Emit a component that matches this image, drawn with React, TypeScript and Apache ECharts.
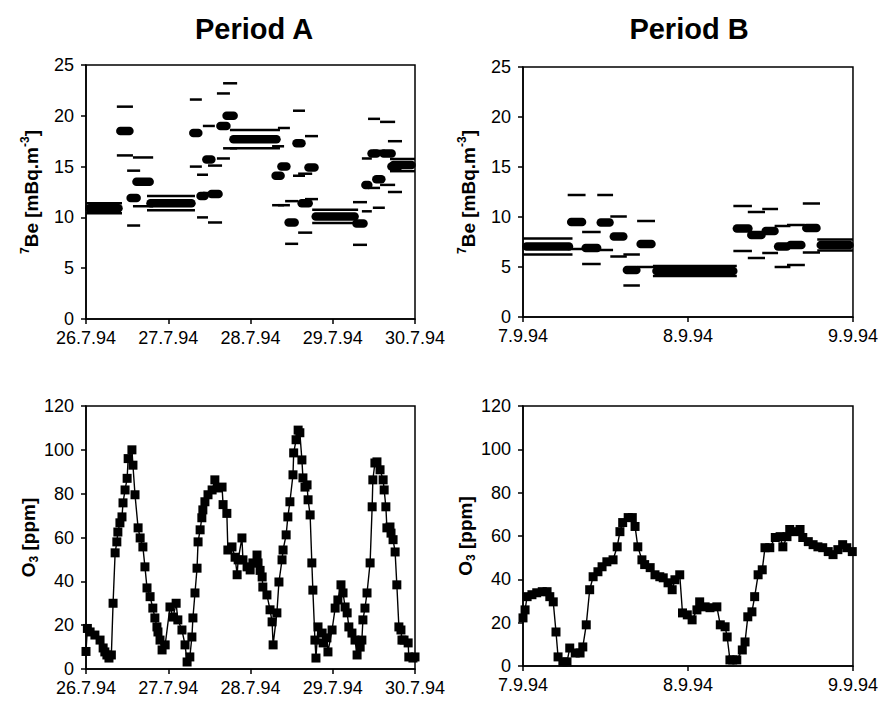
import React, { useEffect, useRef } from "react";
import * as echarts from "echarts";

const FONT = '"Liberation Sans", Arial, Helvetica, sans-serif';

// x positions in hours from the first date label
const datesA = ["26.7.94", "27.7.94", "28.7.94", "29.7.94", "30.7.94"];
const datesB = ["7.9.94", "8.9.94", "9.9.94"];

// 7Be samples: [start h, end h, value, uncertainty]
const beA: number[][] = [
  [0.0, 10.5, 10.9, 0.5],
  [9.0, 13.7, 18.5, 2.4],
  [12.0, 15.8, 11.9, 2.7],
  [13.7, 19.6, 13.5, 2.4],
  [17.8, 31.8, 11.4, 0.7],
  [30.3, 33.8, 18.3, 3.3],
  [32.4, 35.6, 12.1, 2.1],
  [34.1, 37.6, 15.7, 3.3],
  [35.6, 39.7, 12.3, 2.8],
  [38.2, 42.0, 19.0, 3.2],
  [40.0, 44.1, 20.0, 3.2],
  [42.0, 56.6, 17.7, 0.9],
  [54.3, 57.8, 14.1, 2.9],
  [56.0, 59.5, 15.0, 3.8],
  [58.1, 61.9, 9.5, 2.1],
  [60.4, 63.9, 17.3, 3.2],
  [61.9, 66.0, 11.4, 2.9],
  [63.9, 67.7, 14.9, 3.1],
  [66.0, 79.4, 10.1, 0.65],
  [77.9, 82.0, 9.4, 2.1],
  [80.5, 83.4, 13.2, 2.6],
  [82.3, 85.8, 16.3, 3.4],
  [83.7, 87.2, 13.75, 2.8],
  [85.8, 90.2, 16.3, 3.1],
  [88.1, 92.2, 15.0, 2.5],
  [88.7, 96.0, 15.15, 0.6],
];

const beB: number[][] = [
  [0.0, 7.2, 7.05, 0.8],
  [6.5, 9.1, 9.5, 2.7],
  [8.6, 11.3, 6.9, 1.6],
  [10.8, 13.1, 9.45, 2.75],
  [12.7, 15.1, 8.05, 2.0],
  [14.6, 17.0, 4.7, 1.55],
  [16.6, 19.2, 7.3, 2.3],
  [18.9, 31.1, 4.6, 0.5],
  [30.6, 33.3, 8.85, 2.25],
  [32.7, 35.2, 8.2, 2.3],
  [34.8, 37.1, 8.6, 2.2],
  [36.6, 38.9, 7.05, 2.05],
  [38.4, 41.0, 7.2, 2.0],
  [40.7, 43.2, 8.9, 2.45],
  [42.8, 48.0, 7.2, 0.55],
];

// O3 [ppm]: [hour, value]
const o3A: number[][] = [
  [0.0, 8], [0.4, 18.5], [1.2, 16.9], [2.6, 15.5], [4.1, 13.2], [5.0, 9.6], [5.5, 7.8],
  [6.1, 6.4], [6.7, 5.0], [7.4, 6.4], [7.9, 30], [8.5, 53], [9.0, 58], [9.3, 62.5],
  [9.9, 66.7], [10.5, 69.4], [10.8, 75.8], [11.4, 81.7], [12.0, 87], [12.3, 96],
  [13.4, 100], [13.7, 93], [14.3, 79.5], [15.2, 64.4], [15.8, 59.8], [16.6, 55.7],
  [17.2, 46.6], [17.8, 37], [18.7, 33], [19.5, 27.8], [20.1, 23.3], [20.7, 19.2],
  [21.0, 16.9], [21.6, 13.2], [22.2, 8.7], [23.1, 11], [24.5, 28.3], [25.4, 23.7],
  [26.3, 30], [26.8, 22.4], [28.0, 17.8], [28.9, 11], [29.5, 3.2], [30.3, 5.5],
  [30.9, 14.6], [31.2, 23.3], [31.8, 34.7], [32.4, 46], [32.7, 58], [33.3, 63.5],
  [33.8, 69], [34.1, 72.6], [34.7, 76.3], [35.6, 79.5], [36.8, 81.7], [37.6, 86.3],
  [38.5, 82.6], [39.7, 83], [40.0, 75], [41.1, 71], [41.4, 54.3], [42.6, 55.7],
  [43.5, 51], [44.1, 43], [44.4, 49.8], [45.5, 59.8], [45.8, 49.8], [47.0, 46.6],
  [47.9, 45.2], [48.7, 48.4], [49.9, 52], [50.2, 48.4], [50.8, 45], [51.4, 42],
  [51.6, 37.4], [52.8, 33.8], [53.7, 27], [54.3, 21.5], [54.6, 11], [55.7, 25.6],
  [56.3, 39.7], [57.2, 49.8], [57.5, 54.3], [58.4, 61.2], [58.9, 69.4], [59.5, 76.3],
  [60.4, 88.6], [60.6, 98.6], [61.3, 104.6], [61.9, 109], [62.4, 107.8], [63.0, 95.4],
  [63.3, 87.2], [63.9, 83], [64.5, 84], [64.8, 77.2], [65.4, 70.3], [65.9, 48.4],
  [66.2, 36], [66.8, 13.2], [67.1, 5], [67.7, 19.2], [68.9, 16.4], [69.2, 11.9],
  [70.3, 14.2], [70.6, 7.8], [71.8, 17.8], [72.7, 27.8], [73.5, 31.5], [74.4, 38.4],
  [75.0, 34.7], [75.6, 28.3], [76.2, 25.6], [76.7, 19.2], [77.6, 16.4], [78.5, 13.2],
  [79.1, 6.4], [80.0, 10], [80.5, 13.2], [80.8, 22.4], [81.4, 27.8], [82.0, 34.7],
  [82.9, 48.4], [83.5, 74], [83.7, 86.3], [84.3, 94], [84.9, 94.5], [85.8, 90.9],
  [86.7, 86.3], [87.0, 81.7], [87.5, 74], [87.8, 64.4], [88.7, 64.8], [89.0, 62],
  [89.6, 59], [90.2, 53.4], [90.7, 38.4], [91.3, 19.2], [91.9, 17.8], [92.2, 13.2],
  [92.8, 13.2], [94.0, 11.9], [94.2, 5.5], [95.4, 5], [96.0, 5.5],
];

const o3B: number[][] = [
  [0.0, 22.2], [0.3, 25.9], [0.6, 32], [1.3, 32.9], [2.0, 33.8], [2.8, 34.3], [3.5, 34.3],
  [3.9, 32], [4.4, 29.6], [4.8, 15.7], [5.1, 4.2], [5.8, 1.9], [6.4, 1.9], [6.8, 8.3],
  [7.6, 6.0], [8.3, 6.0], [8.7, 8.8], [9.2, 19], [9.7, 35.2], [10.2, 41.2], [10.9, 43.5],
  [11.5, 45.8], [12.2, 48.1], [13.1, 49], [13.7, 55], [14.1, 62], [14.5, 66.2], [15.3, 68.5],
  [15.9, 68.5], [16.3, 64.4], [16.7, 55], [17.3, 49], [17.7, 46.8], [18.5, 45.4], [19.2, 42.1],
  [19.9, 41.2], [20.4, 40.7], [21.1, 38.4], [21.7, 35.2], [22.1, 39.8], [22.8, 42.1],
  [23.2, 24.5], [23.9, 23.6], [24.6, 21.3], [25.3, 25.9], [25.7, 29.6], [26.5, 27.3],
  [27.2, 26.9], [28.2, 27.3], [28.7, 19], [29.4, 18.1], [29.7, 13.4], [30.1, 2.8],
  [30.5, 2.8], [31.1, 2.8], [31.9, 7.4], [32.3, 11.1], [32.7, 22.7], [33.3, 25], [33.7, 32],
  [34.2, 42.1], [34.8, 44.4], [35.2, 54.6], [35.9, 54.6], [36.7, 59.3], [37.4, 59.7],
  [37.8, 55], [38.4, 59.7], [38.8, 63], [39.6, 62], [40.3, 63], [40.7, 59.3], [41.5, 57.4],
  [42.2, 56], [42.9, 55], [43.6, 54.6], [44.4, 52.8], [45.1, 51.4], [45.8, 53.7],
  [46.5, 56], [47.1, 54.6], [47.9, 52.8],
];

const beTicks = { min: 0, max: 25, interval: 5 };
const o3Ticks = { min: 0, max: 120, interval: 20 };

function renderBe(_params: any, api: any) {
  const s = api.value(0);
  const e = api.value(1);
  const v = api.value(2);
  const err = api.value(3);
  const a = api.coord([s, v]);
  const b = api.coord([e, v]);
  const ah = api.coord([s, v + err]);
  const bh = api.coord([e, v + err]);
  const al = api.coord([s, v - err]);
  const bl = api.coord([e, v - err]);
  const inset = Math.max(0, Math.min(3.5, (b[0] - a[0]) / 2 - 1));
  return {
    type: "group",
    children: [
      {
        type: "line",
        shape: { x1: ah[0], y1: ah[1], x2: bh[0], y2: bh[1] },
        style: { stroke: "#000", lineWidth: 2.5 },
      },
      {
        type: "line",
        shape: { x1: al[0], y1: al[1], x2: bl[0], y2: bl[1] },
        style: { stroke: "#000", lineWidth: 2.5 },
      },
      {
        type: "line",
        shape: { x1: a[0] + inset, y1: a[1], x2: b[0] - inset, y2: b[1] },
        style: { stroke: "#000", lineWidth: 8.5, lineCap: "round" },
      },
    ],
  };
}

const nameRich = {
  b: { fontSize: 19, fontWeight: "bold", fontFamily: FONT, color: "#000", lineHeight: 24 },
  sup: { fontSize: 12, fontWeight: "bold", fontFamily: FONT, color: "#000", verticalAlign: "top", lineHeight: 14 },
  sub: { fontSize: 12, fontWeight: "bold", fontFamily: FONT, color: "#000", verticalAlign: "bottom", lineHeight: 14 },
};

function xAxisFor(gridIndex: number, labels: string[]) {
  return {
    type: "value",
    gridIndex,
    min: 0,
    max: (labels.length - 1) * 24,
    interval: 24,
    axisLine: { lineStyle: { color: "#000", width: 1.5 } },
    axisTick: { show: true, length: 5, lineStyle: { color: "#000", width: 1.5 } },
    axisLabel: {
      color: "#000",
      fontSize: 18,
      fontFamily: FONT,
      margin: 10,
      formatter: (v: number) => labels[Math.round(v / 24)] ?? "",
    },
    splitLine: { show: false },
  };
}

function yAxisFor(gridIndex: number, ticks: { min: number; max: number; interval: number }, name: string) {
  return {
    type: "value",
    gridIndex,
    min: ticks.min,
    max: ticks.max,
    interval: ticks.interval,
    name,
    nameLocation: "middle",
    nameRotate: 90,
    nameGap: 43,
    nameTextStyle: { rich: nameRich },
    axisLine: { show: true, lineStyle: { color: "#000", width: 1.5 } },
    axisTick: { show: true, length: 5, lineStyle: { color: "#000", width: 1.5 } },
    axisLabel: { color: "#000", fontSize: 18, fontFamily: FONT, margin: 12 },
    splitLine: { show: false },
  };
}

const beName = "{sup|7}{b|Be [mBq.m}{sup|-3}{b|]}";
const o3Name = "{b|O}{sub|3}{b| [ppm]}";

export default function App() {
  const ref = useRef<HTMLDivElement>(null);
  useEffect(() => {
    if (!ref.current) return;
    const chart = echarts.init(ref.current, null, { renderer: "svg" });
    const gridStyle = { show: true, borderColor: "#000", borderWidth: 1.5, backgroundColor: "transparent" };
    chart.setOption({
      animation: false,
      backgroundColor: "#fff",
      textStyle: { fontFamily: FONT },
      grid: [
        { left: 86, top: 65, width: 329, height: 254, ...gridStyle },
        { left: 523, top: 67, width: 330, height: 250, ...gridStyle },
        { left: 86, top: 406, width: 329, height: 263, ...gridStyle },
        { left: 523, top: 406, width: 330, height: 260, ...gridStyle },
      ],
      xAxis: [xAxisFor(0, datesA), xAxisFor(1, datesB), xAxisFor(2, datesA), xAxisFor(3, datesB)],
      yAxis: [
        yAxisFor(0, beTicks, beName),
        yAxisFor(1, beTicks, beName),
        yAxisFor(2, o3Ticks, o3Name),
        yAxisFor(3, o3Ticks, o3Name),
      ],
      graphic: [
        {
          type: "text",
          x: 254,
          y: 29,
          style: { text: "Period A", font: `bold 29px ${FONT}`, fill: "#000", align: "center", verticalAlign: "middle" },
        },
        {
          type: "text",
          x: 689,
          y: 29,
          style: { text: "Period B", font: `bold 29px ${FONT}`, fill: "#000", align: "center", verticalAlign: "middle" },
        },
      ],
      series: [
        { type: "custom", xAxisIndex: 0, yAxisIndex: 0, renderItem: renderBe, encode: { x: [0, 1], y: 2 }, data: beA },
        { type: "custom", xAxisIndex: 1, yAxisIndex: 1, renderItem: renderBe, encode: { x: [0, 1], y: 2 }, data: beB },
        {
          type: "line",
          xAxisIndex: 2,
          yAxisIndex: 2,
          data: o3A,
          symbol: "rect",
          symbolSize: 9,
          showAllSymbol: true,
          itemStyle: { color: "#000" },
          lineStyle: { color: "#000", width: 1.4 },
        },
        {
          type: "line",
          xAxisIndex: 3,
          yAxisIndex: 3,
          data: o3B,
          symbol: "rect",
          symbolSize: 9,
          showAllSymbol: true,
          itemStyle: { color: "#000" },
          lineStyle: { color: "#000", width: 1.4 },
        },
      ],
    });
    return () => chart.dispose();
  }, []);
  return (
    <div
      ref={ref}
      style={{ position: "absolute", left: 0, top: 0, width: 881, height: 704, background: "#fff" }}
    />
  );
}
